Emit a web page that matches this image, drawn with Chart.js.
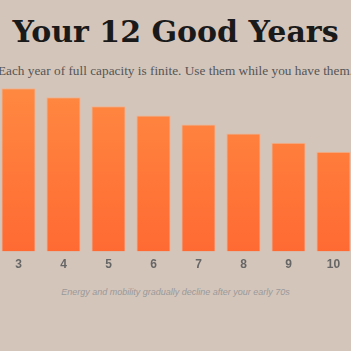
<!DOCTYPE html>
<html>
<head>
<meta charset="utf-8">
<script src="https://cdn.jsdelivr.net/npm/chart.js@4.4.1/dist/chart.umd.min.js"></script>
<style>
    html, body { margin: 0; padding: 0; width: 351px; height: 351px; overflow: hidden; background: #d4c5bb; }
    .wrap { position: absolute; left: 50%; top: 0; width: 560px; margin-left: -280px; text-align: center; }
    h1 { font-family: Georgia, "DejaVu Serif", serif; font-weight: bold; font-size: 30px; color: #1a1a1a; margin: 0; position: absolute; top: 14px; width: 100%; line-height: 36px; }
    .sub { font-family: Georgia, "Liberation Serif", serif; font-size: 13.3px; color: #555; position: absolute; top: 63px; width: 100%; white-space: nowrap; line-height: 16px; }
    .chart-box { position: absolute; left: 10px; top: 70px; width: 540px; height: 208px; }
    .note { font-family: "Liberation Sans", Arial, sans-serif; font-style: italic; font-size: 9px; color: #999; position: absolute; top: 287px; width: 100%; white-space: nowrap; }
</style>
</head>
<body>
<div class="wrap">
    <h1>Your 12 Good Years</h1>
    <div class="sub">Each year of full capacity is finite. Use them while you have them.</div>
    <div class="chart-box"><canvas id="yearsChart"></canvas></div>
    <div class="note">Energy and mobility gradually decline after your early 70s</div>
</div>
<script>
// Years and estimated capacity for each
const years = ['1', '2', '3', '4', '5', '6', '7', '8', '9', '10', '11', '12'];
const capacity = [100, 95, 90, 85, 80, 75, 70, 65, 60, 55, 50, 45];

const ctx = document.getElementById('yearsChart').getContext('2d');

new Chart(ctx, {
    type: 'bar',
    data: {
        labels: years,
        datasets: [{
            label: 'Capacity',
            data: capacity,
            backgroundColor: function (context) {
                const area = context.chart.chartArea;
                if (!area) return '#ff7a3b';
                const g = context.chart.ctx.createLinearGradient(0, area.top, 0, area.bottom);
                g.addColorStop(0, '#ff8c42');
                g.addColorStop(1, '#ff6a33');
                return g;
            },
            borderColor: 'rgba(255, 170, 120, 0.7)',
            borderWidth: 1,
            barPercentage: 0.95,
            categoryPercentage: 0.8
        }]
    },
    options: {
        responsive: true,
        maintainAspectRatio: false,
        animation: false,
        layout: { padding: 0 },
        plugins: {
            legend: { display: false },
            tooltip: { enabled: false }
        },
        scales: {
            x: {
                grid: { display: false, drawTicks: false },
                border: { display: false },
                ticks: {
                    color: '#666',
                    padding: 6,
                    font: { family: '"Liberation Sans", Arial, sans-serif', size: 12, weight: 'bold' }
                }
            },
            y: {
                display: false,
                min: 0,
                max: 100
            }
        }
    }
});
</script>
</body>
</html>
